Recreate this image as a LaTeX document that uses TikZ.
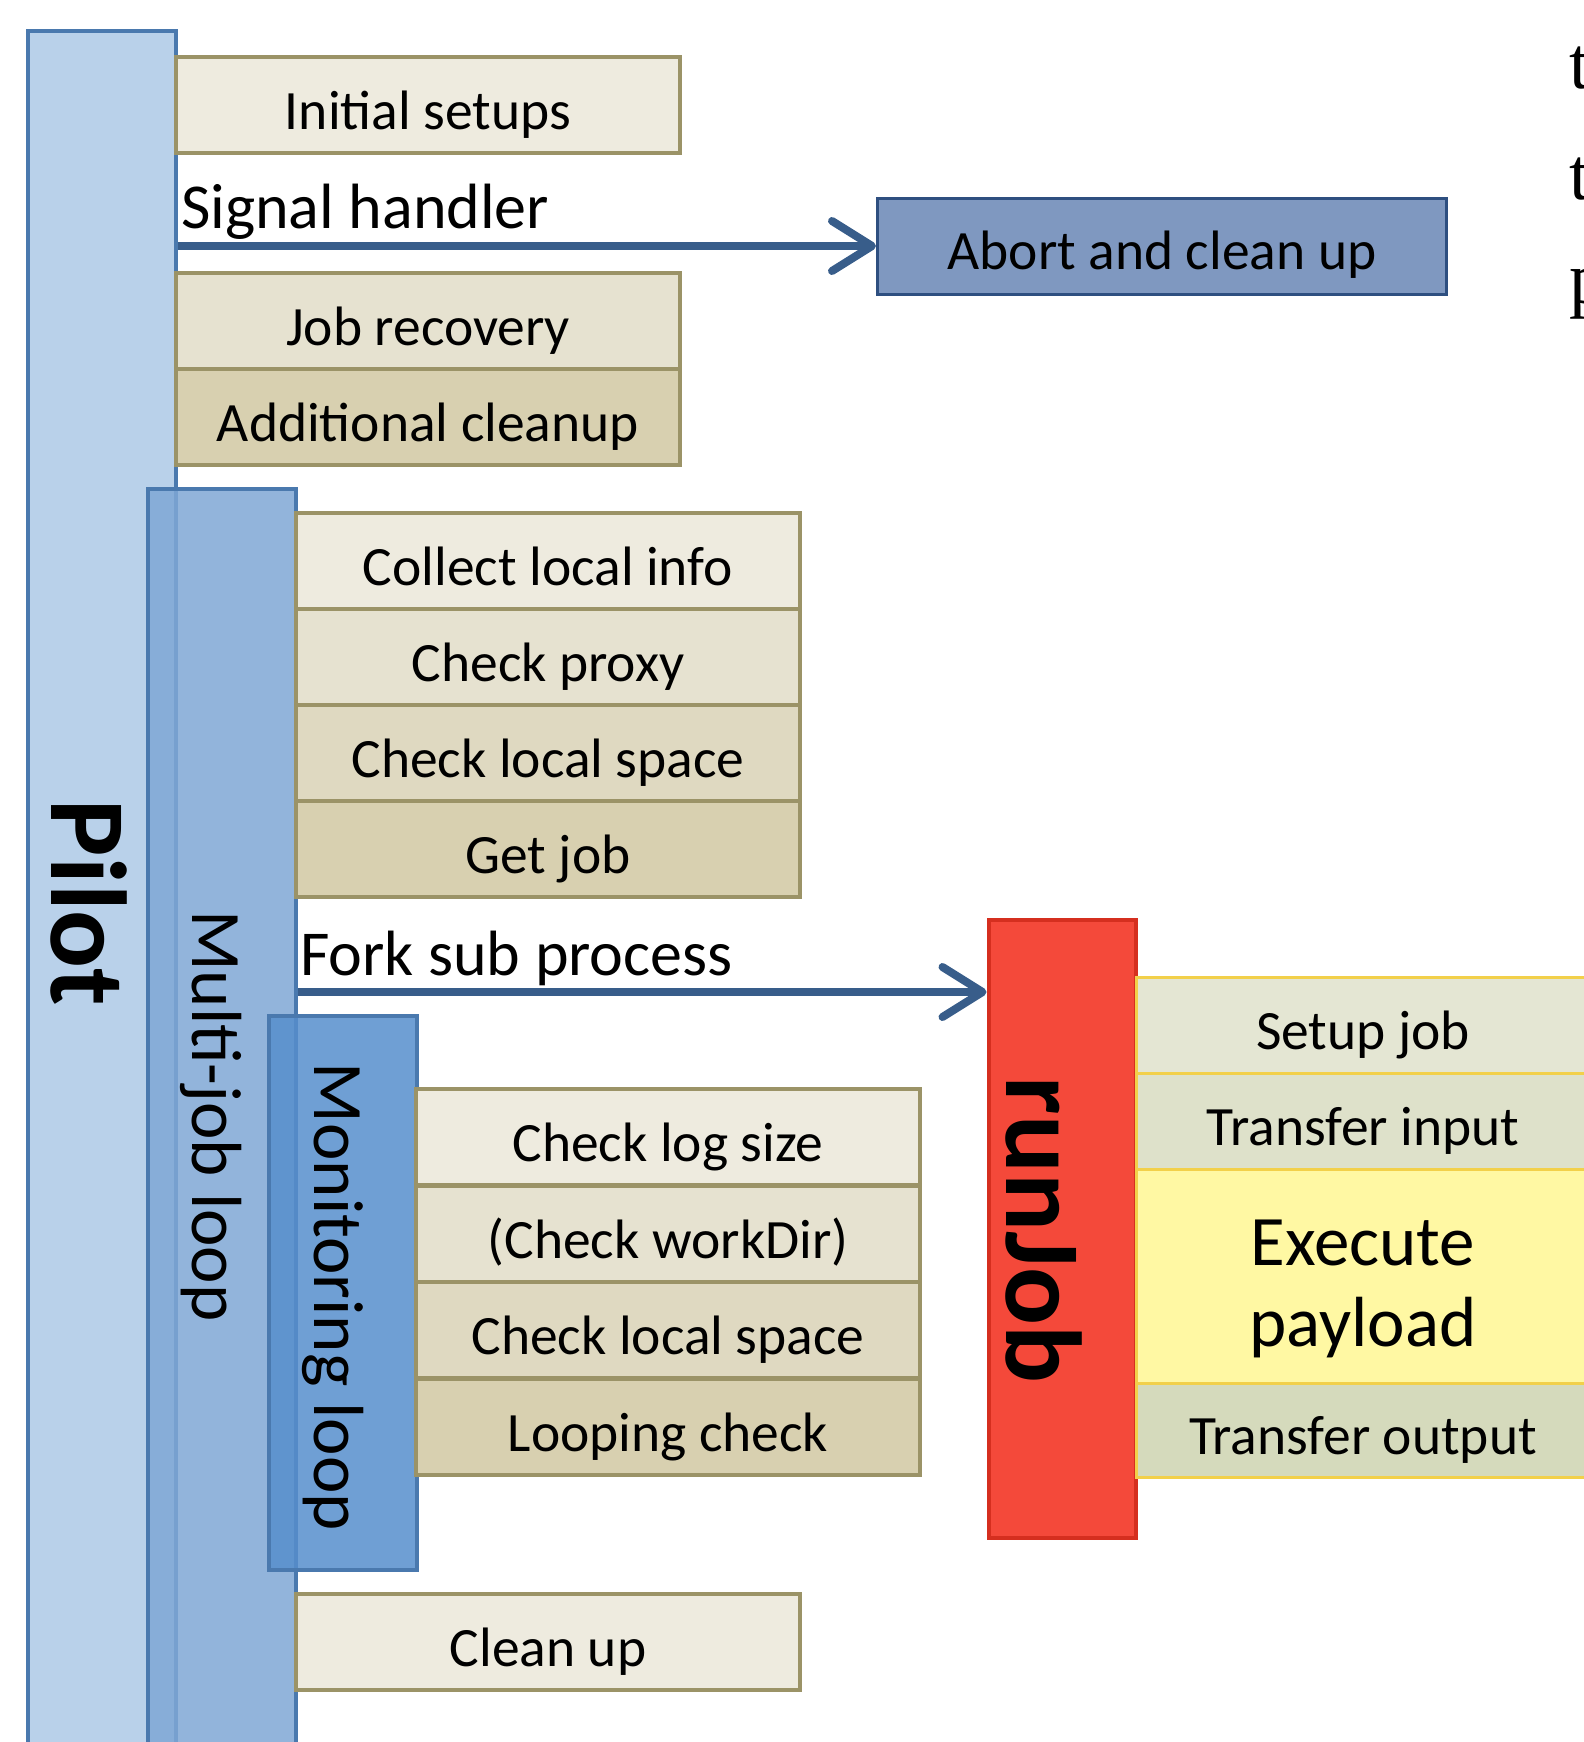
\documentclass[tikz,border=0pt]{standalone}
\usepackage{fontspec}
\setmainfont{Carlito}
\newfontfamily\sidefont{Liberation Serif}
\usetikzlibrary{arrows.meta}

\definecolor{pilotfill}{HTML}{B9D1EA}
\definecolor{multifill}{HTML}{7FA7D5}
\definecolor{monfill}{HTML}{568ECC}
\definecolor{barline}{HTML}{4A79AE}
\definecolor{boxline}{HTML}{9B9367}
\definecolor{shadeA}{HTML}{EEEBDF}
\definecolor{shadeB}{HTML}{E6E2D0}
\definecolor{shadeC}{HTML}{DFD9C1}
\definecolor{shadeD}{HTML}{D8D0B0}
\definecolor{abortfill}{HTML}{7F98C0}
\definecolor{abortline}{HTML}{2E4F80}
\definecolor{runfill}{HTML}{F4493A}
\definecolor{runline}{HTML}{D52F1F}
\definecolor{runedge}{HTML}{F2D04A}
\definecolor{setupfill}{HTML}{E4E6D3}
\definecolor{inputfill}{HTML}{DEE1CA}
\definecolor{execfill}{HTML}{FFF8A3}
\definecolor{outputfill}{HTML}{D5DABC}
\definecolor{arrowblue}{HTML}{385D8A}

\tikzstyle{bar} = [rectangle, draw=barline, line width=4pt, inner sep=0pt, minimum width=148pt]
\tikzstyle{pilotbar} = [bar, fill=pilotfill, minimum height=1750pt]
\tikzstyle{multibar} = [bar, fill=multifill, fill opacity=0.85, minimum height=1280pt]
\tikzstyle{monbar} = [bar, fill=monfill, fill opacity=0.85, minimum height=554pt]
\tikzstyle{runbar} = [rectangle, draw=runline, fill=runfill, line width=4pt, minimum width=147pt, minimum height=618pt]
\tikzstyle{taskbox} = [rectangle, draw=boxline, line width=4pt, minimum width=504pt, minimum height=96pt, inner sep=0pt, text height=49pt, text depth=0pt, text centered, font=\fontsize{55.5}{66}\selectfont]
\tikzstyle{runbox} = [rectangle, draw=runedge, line width=3pt, minimum width=454pt, minimum height=96pt, inner sep=0pt, text height=48pt, text depth=0pt, text centered, font=\fontsize{55.5}{66}\selectfont]
\tikzstyle{abortbox} = [rectangle, draw=abortline, fill=abortfill, line width=3pt, minimum width=569pt, minimum height=96pt, inner sep=0pt, text height=47pt, text depth=0pt, text centered, font=\fontsize{55.5}{66}\selectfont]
\tikzstyle{flowlabel} = [anchor=base west, inner sep=0pt, font=\fontsize{64}{76}\selectfont]
\tikzstyle{looplabel} = [rotate=-90, inner sep=0pt, font=\fontsize{71}{84}\selectfont]
\tikzstyle{mainlabel} = [rotate=-90, inner sep=0pt, font=\bfseries\fontsize{108}{128}\selectfont]
\tikzstyle{sidetext} = [anchor=base west, inner sep=0pt, font=\sidefont\fontsize{74}{110}\selectfont]
\tikzstyle{arrow} = [line width=8pt, draw=arrowblue, -{Straight Barb[length=40pt, width=50pt, line width=8pt, line cap=round, line join=round]}]

\begin{document}
\begin{tikzpicture}[x=1pt, y=-1pt]
    \useasboundingbox (0,0) rectangle (1584,1742);
    \clip (0,0) rectangle (1584,1742);

    \node [pilotbar] at (102,906) (pilot) {};
    \node [mainlabel] at (89,903) (pilotlbl) {Pilot};

    \node [taskbox, fill=shadeA] at (428,105) (initial) {Initial setups};
    \node [taskbox, fill=shadeB] at (428,321) (recovery) {Job recovery};
    \node [taskbox, fill=shadeD] at (428,417) (addclean) {Additional cleanup};

    \node [abortbox] at (1162,246) (abort) {Abort and clean up};
    \node [flowlabel] at (181,228) (signallbl) {Signal handler};

    \node [multibar] at (222,1129) (multi) {};
    \node [looplabel] at (211,1116) (multilbl) {Multi-job loop};

    \node [taskbox, fill=shadeA] at (548,561) (collect) {Collect local info};
    \node [taskbox, fill=shadeB] at (548,657) (proxy) {Check proxy};
    \node [taskbox, fill=shadeC] at (548,753) (space) {Check local space};
    \node [taskbox, fill=shadeD] at (548,849) (getjob) {Get job};

    \node [flowlabel] at (300,975) (forklbl) {Fork sub process};
    \coordinate (fork) at (0,992);

    \node [monbar] at (343,1293) (monitor) {};
    \node [looplabel] at (333,1297) (monlbl) {Monitoring loop};

    \node [taskbox, fill=shadeA] at (668,1137) (logsize) {Check log size};
    \node [taskbox, fill=shadeB] at (668,1234) (workdir) {(Check workDir)};
    \node [taskbox, fill=shadeC] at (668,1330) (monspace) {Check local space};
    \node [taskbox, fill=shadeD] at (668,1427) (looping) {Looping check};

    \node [taskbox, fill=shadeA] at (548,1642) (cleanup) {Clean up};

    \node [runbar] at (1062,1229) (runjob) {};
    \node [mainlabel] at (1044,1230) (runlbl) {runJob};

    \node [runbox, fill=setupfill] at (1363,1025) (setup) {Setup job};
    \node [runbox, fill=inputfill] at (1363,1121) (input) {Transfer input};
    \node [runbox, fill=execfill, minimum height=214pt, align=center, text height=140pt, text depth=0pt, font=\fontsize{71}{81}\selectfont] at (1363,1276) (execute) {Execute\\payload};
    \node [runbox, fill=outputfill, minimum height=94pt] at (1363,1430) (output) {Transfer output};

    \draw [arrow] (pilot.east |- abort.west) -- (abort.west);
    \draw [arrow] (multi.east |- fork) -- (runjob.west |- fork);

    \node [sidetext] at (1569,89) (side1) {t};
    \node [sidetext] at (1569,199) (side2) {t};
    \node [sidetext] at (1569,303) (side3) {p};
\end{tikzpicture}
\end{document}
